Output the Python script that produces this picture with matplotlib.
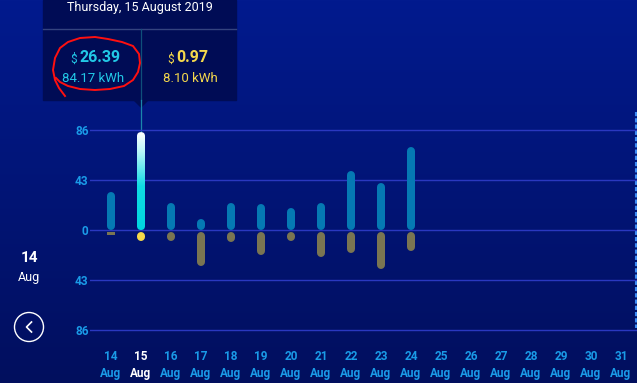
import numpy as np
import matplotlib
matplotlib.use("Agg")
from matplotlib import pyplot as plt
from matplotlib.colors import LinearSegmentedColormap
from matplotlib.patches import FancyBboxPatch, Rectangle, Polygon, Circle

plt.rcParams['font.family'] = ['Roboto', 'DejaVu Sans']

# daily energy (kWh), 14 - 31 Aug 2019
days = list(range(14, 32))
produced_kwh = [32.7, 84.17, 23.0, 9.5, 23.0, 22.0, 18.7, 23.0, 50.5, 40.0, 71.0]
consumed_kwh = [2.6, 8.10, 8.0, 29.0, 9.0, 20.0, 8.0, 21.6, 17.8, 32.0, 16.0]
y_ticks = [-86, -43, 0, 43, 86]
y_labels = ['86', '43', '0', '43', '86']
x_labels = [str(d) + '\nAug' for d in days]
sel_day = 15
sel_cost = ['26.39', '0.97']
sel_energy = ['84.17 kWh', '8.10 kWh']
sel_title = 'Thursday, 15 August 2019'

W, H = 637, 383
fig = plt.figure(figsize=(W / 100, H / 100), dpi=100)

# background in pixel coords
bg = fig.add_axes([0, 0, 1, 1])
bg.set_xlim(0, W)
bg.set_ylim(H, 0)
bg.axis('off')
bgcmap = LinearSegmentedColormap.from_list('bg', ['#021a8e', '#010f5e'])
bg.imshow(np.linspace(0, 1, 256).reshape(-1, 1), extent=[0, W, H, 0],
          cmap=bgcmap, aspect='auto', zorder=0)

# data axes: day 14 at px 111 (30 px per day), 0 at px 230 (50 px per 43)
left_px, right_px, top_px, bot_px = 90, 637, 100, 345
ax = fig.add_axes([left_px / W, (H - bot_px) / H, (right_px - left_px) / W, (bot_px - top_px) / H])
ax.patch.set_alpha(0)
for s in ax.spines.values():
    s.set_visible(False)
px_x = 1 / 30.0
px_y = 43 / 50.0
xlim = (14 + (left_px - 111) * px_x, 14 + (right_px - 111) * px_x)
ylim = ((230 - bot_px) * px_y, (230 - top_px) * px_y)

ax.set_yticks(y_ticks)
ax.set_yticklabels(y_labels)
ax.set_xticks(days)
ax.set_xticklabels(x_labels)
ax.grid(axis='y', color='#2a38c0', lw=1)
ax.set_axisbelow(True)
ax.tick_params(axis='y', length=0, pad=1, labelcolor='#1a9be8', labelsize=8.5)
ax.tick_params(axis='x', length=0, pad=3.5, labelcolor='#1a9be8', labelsize=8.5)
for lbl in ax.get_xticklabels():
    lbl.set_linespacing(1.4)
    lbl.set_fontweight('bold')
    if lbl.get_text().startswith(str(sel_day)):
        lbl.set_color('white')
for lbl in ax.get_yticklabels():
    lbl.set_fontweight('bold')

bar_w = 8 * px_x
lw_pt = 8 * 72 / 100
r_y = 4 * px_y
gap = 2 * px_y
for i, v in enumerate(produced_kwh):
    d = days[i]
    if d == sel_day:
        continue
    ax.plot([d, d], [r_y, v - r_y], color='#0579b3', lw=lw_pt, solid_capstyle='round')
for i, v in enumerate(consumed_kwh):
    d = days[i]
    col = '#f5d94a' if d == sel_day else '#7a7552'
    if v < 2 * r_y:
        ax.bar(d, -v, bottom=-gap, width=bar_w, color=col)
    else:
        ax.plot([d, d], [-gap - r_y, -gap - v + r_y], color=col, lw=lw_pt, solid_capstyle='round')

# highlighted bar with gradient
sel_v = produced_kwh[days.index(sel_day)]
clip = FancyBboxPatch((sel_day - bar_w / 2, 0), bar_w, sel_v,
                      boxstyle='round,pad=0,rounding_size=%f' % (bar_w / 2),
                      mutation_aspect=px_y / px_x, facecolor='none', edgecolor='none')
ax.add_patch(clip)
gcmap = LinearSegmentedColormap.from_list('sel', [(0, '#00d6e0'), (0.45, '#10dce4'),
                                                   (0.8, '#b8f6f8'), (1, '#ffffff')])
im = ax.imshow(np.linspace(1, 0, 200).reshape(-1, 1), cmap=gcmap, aspect='auto',
               extent=[sel_day - bar_w / 2, sel_day + bar_w / 2, 0, sel_v], zorder=3)
im.set_clip_path(clip)
ax.set_xlim(*xlim)
ax.set_ylim(*ylim)

# cursor line
sel_px = 111 + (sel_day - 14) * 30
sel_top = 230 - sel_v / px_y
bg.plot([sel_px, sel_px], [29, 100], color='#0f4f7a', lw=0.9, zorder=4)
bg.plot([sel_px, sel_px], [100, sel_top], color='#1a86ab', lw=0.9, zorder=4)

# tooltip
bg.add_patch(Rectangle((43, 0), 193, 100, color='#000c55', zorder=2))
bg.add_patch(Polygon([[134, 100], [148, 100], [sel_px, 107]], closed=True, color='#000c55', zorder=2))
bg.plot([43, 236], [28.5, 28.5], color='#34437f', lw=1, zorder=3)
bg.text(140, 8, sel_title, color='white', fontsize=9, ha='center', va='center', zorder=5)
cols = ['#22c8e6', '#f4d84c']
cx = [93, 190]
for k in range(2):
    bg.text(cx[k] - 16, 59, '$', color=cols[k], fontsize=8.5, ha='right', va='center', zorder=5)
    bg.text(cx[k] - 14, 57, sel_cost[k], color=cols[k], fontsize=11.5, fontweight='bold',
            ha='left', va='center', zorder=5)
    bg.text(cx[k], 79, sel_energy[k], color=cols[k], fontsize=9.5, ha='center', va='center', zorder=5)

# hand drawn red circle
loop = np.array([[65, 96], [59, 88], [55, 80], [53, 70], [55, 58], [60, 48], [68, 42],
                 [80, 38], [95, 37], [108, 39], [122, 42], [133, 46], [139, 54], [140, 63],
                 [138, 72], [133, 80], [124, 86], [110, 89], [95, 90], [80, 89], [68, 86],
                 [60, 82], [56, 78]])
bg.plot(loop[:, 0], loop[:, 1], color='#ff1010', lw=1.4, zorder=6, solid_joinstyle='round')

# left date + back button
bg.text(29, 258, '14', color='white', fontsize=11, fontweight='bold', ha='center', va='center')
bg.text(29, 277, 'Aug', color='white', fontsize=9, ha='center', va='center')
bg.add_patch(Circle((29, 327), 14.5, fill=False, edgecolor='white', lw=1))
bg.plot([31.5, 26.5, 31.5], [322, 327, 332], color='white', lw=1.2)

# dashed right edge
bg.plot([636, 636], [112, 328], color='#3d8cf5', lw=1.5, ls=(0, (2, 1)))

fig.savefig('out.png', dpi=100)
